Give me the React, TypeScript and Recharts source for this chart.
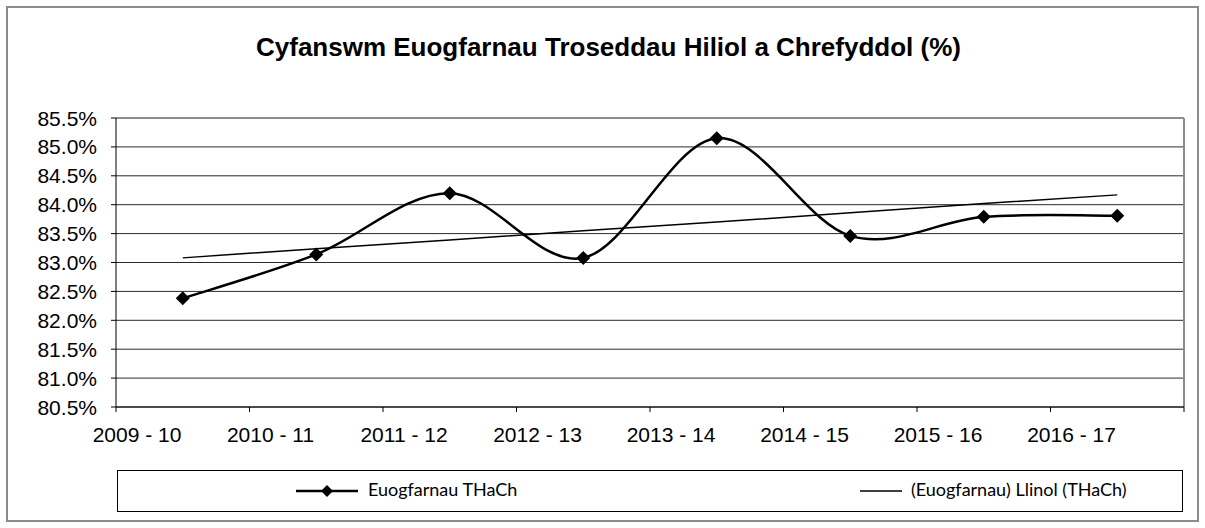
import React from 'react'
import { LineChart, Line, XAxis, YAxis, CartesianGrid, ReferenceLine } from 'recharts'

const categories = ['2009 - 10', '2010 - 11', '2011 - 12', '2012 - 13', '2013 - 14', '2014 - 15', '2015 - 16', '2016 - 17']
const convictions = [82.38, 83.14, 84.2, 83.08, 85.15, 83.46, 83.79, 83.81]
const trendLine = [83.08, 83.24, 83.39, 83.55, 83.7, 83.86, 84.02, 84.17]
const yTicks = [80.5, 81, 81.5, 82, 82.5, 83, 83.5, 84, 84.5, 85, 85.5]
const xTicks = [0, 1, 2, 3, 4, 5, 6, 7, 8]

const seriesName = 'Euogfarnau THaCh'
const trendName = '(Euogfarnau) Llinol (THaCh)'

const data = categories.map((name, i) => ({
  x: i + 0.5,
  name,
  value: convictions[i],
  trend: trendLine[i],
}))

const ARIAL = "'Liberation Sans', Arial, sans-serif"

// Excel style smoothed line (bezier through the points)
const smoothCurve = (context: any) => {
  let pts: [number, number][] = []
  return {
    areaStart() {},
    areaEnd() {},
    lineStart() { pts = [] },
    point(x: number, y: number) { pts.push([+x, +y]) },
    lineEnd() {
      if (!pts.length) return
      context.moveTo(pts[0][0], pts[0][1])
      for (let i = 0; i < pts.length - 1; i++) {
        const p0 = pts[i - 1] || pts[i]
        const p1 = pts[i]
        const p2 = pts[i + 1]
        const p3 = pts[i + 2] || p2
        context.bezierCurveTo(
          p1[0] + (p2[0] - p0[0]) / 6, p1[1] + (p2[1] - p0[1]) / 6,
          p2[0] - (p3[0] - p1[0]) / 6, p2[1] - (p3[1] - p1[1]) / 6,
          p2[0], p2[1]
        )
      }
    },
  }
}

const Diamond = (props: any) => {
  const { cx, cy } = props
  if (cx == null || cy == null) return null
  const r = 7
  return <polygon points={`${cx},${cy - r} ${cx + r},${cy} ${cx},${cy + r} ${cx - r},${cy}`} fill="#000" />
}

// labels sit a little right of each tick mark, like in the source
const XTick = (props: any) => {
  const { x, y, payload } = props
  const label = categories[payload.value]
  if (!label) return null
  return (
    <text x={x + 21} y={y + 28} textAnchor="middle" fill="#000" fontSize={21} fontFamily={ARIAL}>
      {label}
    </text>
  )
}

const YTick = (props: any) => {
  const { x, y, payload } = props
  return (
    <text x={x - 12} y={y + 7.5} textAnchor="end" fill="#000" fontSize={21} fontFamily={ARIAL}>
      {payload.value.toFixed(1)}%
    </text>
  )
}

const legendText: React.CSSProperties = { position: 'absolute', top: 7, whiteSpace: 'nowrap' }

const LegendBox = () => (
  <div style={{
    position: 'absolute', left: 117, top: 470, width: 1066, height: 42, boxSizing: 'border-box',
    border: '1px solid #000', fontFamily: 'Lato, sans-serif', fontSize: 18, color: '#000',
  }}>
    <svg width={70} height={20} style={{ position: 'absolute', left: 176, top: 10 }}>
      <line x1={2} y1={10} x2={64} y2={10} stroke="#000" strokeWidth={2.5} />
      <polygon points="33,4 39,10 33,16 27,10" fill="#000" />
    </svg>
    <span style={{ ...legendText, left: 250 }}>{seriesName}</span>
    <svg width={50} height={20} style={{ position: 'absolute', left: 740, top: 10 }}>
      <line x1={2} y1={10} x2={44} y2={10} stroke="#000" strokeWidth={1.5} />
    </svg>
    <span style={{ ...legendText, left: 793 }}>{trendName}</span>
  </div>
)

export default function App() {
  return (
    <div style={{ position: 'absolute', left: 0, top: 0, width: 1205, height: 528, background: '#fff' }}>
      <div style={{
        position: 'absolute', left: 6, top: 6, width: 1193, height: 516,
        border: '2px solid #8c8c8c', boxSizing: 'border-box',
      }} />
      <div style={{
        position: 'absolute', left: 12, top: 32, width: 1193, textAlign: 'center',
        fontFamily: ARIAL, fontWeight: 'bold', fontSize: 26, color: '#000',
      }}>
        Cyfanswm Euogfarnau Troseddau Hiliol a Chrefyddol (%)
      </div>
      <div style={{ position: 'absolute', left: 0, top: 0 }}>
        <LineChart width={1205} height={528} data={data} margin={{ top: 118, right: 21, bottom: 81, left: 0 }}>
          <CartesianGrid horizontal vertical={false} stroke="#2b2b2b" strokeWidth={1} />
          <XAxis
            dataKey="x"
            type="number"
            domain={[0, 8]}
            ticks={xTicks}
            tickSize={5}
            stroke="#000"
            tick={<XTick />}
            interval={0}
            height={40}
          />
          <YAxis
            type="number"
            domain={[80.5, 85.5]}
            ticks={yTicks}
            tickSize={5}
            width={116}
            stroke="#000"
            tick={<YTick />}
            interval={0}
          />
          <ReferenceLine y={85.5} stroke="#8c8c8c" strokeWidth={2} />
          <ReferenceLine x={8} stroke="#8c8c8c" strokeWidth={2} />
          <Line
            dataKey="trend"
            name={trendName}
            type="linear"
            stroke="#000"
            strokeWidth={1.5}
            dot={false}
            activeDot={false}
            isAnimationActive={false}
          />
          <Line
            dataKey="value"
            name={seriesName}
            type={smoothCurve as any}
            stroke="#000"
            strokeWidth={2.5}
            dot={<Diamond />}
            activeDot={false}
            isAnimationActive={false}
          />
        </LineChart>
      </div>
      <LegendBox />
    </div>
  )
}
